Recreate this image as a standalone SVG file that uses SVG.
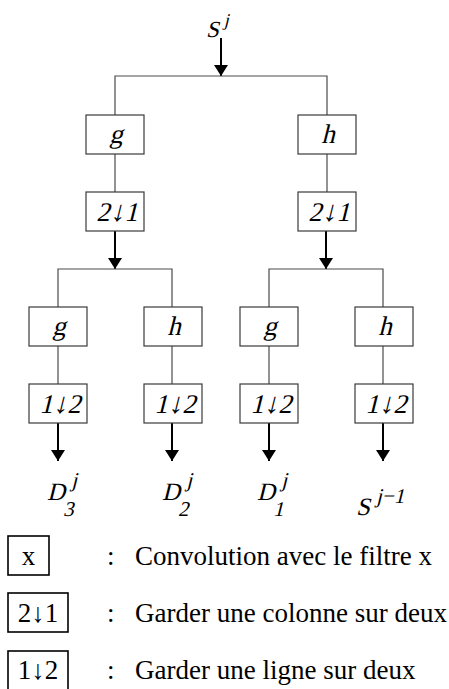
<svg xmlns="http://www.w3.org/2000/svg" width="449" height="689" viewBox="0 0 449 689">
  <style>
    .box { fill: #fff; stroke: #3a3a3a; stroke-width: 1.2; }
    .lbox { fill: #fff; stroke: #000; stroke-width: 1.6; }
    .wire { fill: none; stroke: #4a4a4a; stroke-width: 1.2; }
    .arrow { fill: none; stroke: #000; stroke-width: 2; marker-end: url(#head); }
    .serif { font-family: "Liberation Serif", "DejaVu Serif", "DejaVu Sans", serif; fill: #000; }
    .op { font-size: 27px; text-anchor: middle; }
    .dn { font-size: 29px; }
    .math { font-size: 25px; }
    .scr { font-size: 21px; }
    .up { font-size: 27px; }
  </style>
  <defs>
    <marker id="head" viewBox="0 0 11 14" refX="11" refY="7" markerWidth="11" markerHeight="14" markerUnits="userSpaceOnUse" orient="auto">
      <path d="M0,0 L11,7 L0,14 z" fill="#000"/>
    </marker>
  </defs>

  <!-- connectors -->
  <g id="connectors">
    <line class="arrow" x1="221" y1="38" x2="221" y2="76"/>
    <path class="wire" d="M115,115 V76 H327 V115"/>
    <line class="wire" x1="115" y1="154" x2="115" y2="192"/>
    <line class="wire" x1="327" y1="154" x2="327" y2="192"/>
    <line class="arrow" x1="115" y1="231" x2="115" y2="269"/>
    <line class="arrow" x1="326" y1="231" x2="326" y2="269"/>
    <path class="wire" d="M58,307 V269 H172 V307"/>
    <path class="wire" d="M269,307 V269 H383 V307"/>
    <line class="wire" x1="58" y1="346" x2="58" y2="384"/>
    <line class="wire" x1="172" y1="346" x2="172" y2="384"/>
    <line class="wire" x1="269" y1="346" x2="269" y2="384"/>
    <line class="wire" x1="383" y1="346" x2="383" y2="384"/>
    <line class="arrow" x1="58" y1="423" x2="58" y2="461"/>
    <line class="arrow" x1="172" y1="423" x2="172" y2="461"/>
    <line class="arrow" x1="269" y1="423" x2="269" y2="461"/>
    <line class="arrow" x1="383" y1="423" x2="383" y2="461"/>
  </g>

  <!-- input signal (italic drawn as slanted roman) -->
  <g id="input">
    <text class="serif" style="font-size:23px" transform="translate(206,37) skewX(-14)">S<tspan x="15" y="-11" style="font-size:18px">j</tspan></text>
  </g>

  <!-- first stage: column filtering -->
  <g id="g-top"><rect class="box" x="86" y="115" width="58" height="39"/><text class="serif op" transform="translate(116,143) skewX(-14)">g</text></g>
  <g id="h-top"><rect class="box" x="298" y="115" width="58" height="39"/><text class="serif op" transform="translate(328,143) skewX(-14)">h</text></g>
  <g id="dec-col-left"><rect class="box" x="86" y="192" width="58" height="39"/><text class="serif op" transform="translate(117,221) skewX(-14)">2<tspan class="dn">↓</tspan>1</text></g>
  <g id="dec-col-right"><rect class="box" x="298" y="192" width="58" height="39"/><text class="serif op" transform="translate(329,221) skewX(-14)">2<tspan class="dn">↓</tspan>1</text></g>

  <!-- second stage: row filtering -->
  <g id="g-1"><rect class="box" x="29" y="307" width="58" height="39"/><text class="serif op" transform="translate(59,335) skewX(-14)">g</text></g>
  <g id="h-1"><rect class="box" x="144" y="307" width="58" height="39"/><text class="serif op" transform="translate(174,335) skewX(-14)">h</text></g>
  <g id="g-2"><rect class="box" x="240" y="307" width="58" height="39"/><text class="serif op" transform="translate(270,335) skewX(-14)">g</text></g>
  <g id="h-2"><rect class="box" x="355" y="307" width="58" height="39"/><text class="serif op" transform="translate(385,335) skewX(-14)">h</text></g>
  <g id="dec-row-1"><rect class="box" x="29" y="384" width="58" height="39"/><text class="serif op" transform="translate(60,413) skewX(-14)">1<tspan class="dn">↓</tspan>2</text></g>
  <g id="dec-row-2"><rect class="box" x="144" y="384" width="58" height="39"/><text class="serif op" transform="translate(175,413) skewX(-14)">1<tspan class="dn">↓</tspan>2</text></g>
  <g id="dec-row-3"><rect class="box" x="240" y="384" width="58" height="39"/><text class="serif op" transform="translate(271,413) skewX(-14)">1<tspan class="dn">↓</tspan>2</text></g>
  <g id="dec-row-4"><rect class="box" x="355" y="384" width="58" height="39"/><text class="serif op" transform="translate(386,413) skewX(-14)">1<tspan class="dn">↓</tspan>2</text></g>

  <!-- outputs -->
  <g id="out-d3"><text class="serif math" transform="translate(47,500) skewX(-14)">D<tspan class="scr" x="21" y="-13">j</tspan><tspan class="scr" x="20" y="16">3</tspan></text></g>
  <g id="out-d2"><text class="serif math" transform="translate(162,500) skewX(-14)">D<tspan class="scr" x="21" y="-13">j</tspan><tspan class="scr" x="20" y="16">2</tspan></text></g>
  <g id="out-d1"><text class="serif math" transform="translate(257,500) skewX(-14)">D<tspan class="scr" x="21" y="-13">j</tspan><tspan class="scr" x="20" y="16">1</tspan></text></g>
  <g id="out-s"><text class="serif math" transform="translate(356,515) skewX(-14)">S<tspan class="scr" x="17" y="-12">j−1</tspan></text></g>

  <!-- legend -->
  <g id="legend-filter">
    <rect class="lbox" x="8" y="536" width="41" height="39"/>
    <text class="serif up" x="28.5" y="565" text-anchor="middle">x</text>
    <text class="serif up" x="107" y="565">:</text>
    <text class="serif up" x="135" y="565">Convolution avec le filtre x</text>
  </g>
  <g id="legend-col">
    <rect class="lbox" x="8" y="593" width="60" height="39"/>
    <text class="serif up" x="38" y="622" text-anchor="middle">2↓1</text>
    <text class="serif up" x="107" y="622">:</text>
    <text class="serif up" x="135" y="622">Garder une colonne sur deux</text>
  </g>
  <g id="legend-row">
    <rect class="lbox" x="8" y="651" width="60" height="42"/>
    <text class="serif up" x="38" y="679" text-anchor="middle">1↓2</text>
    <text class="serif up" x="107" y="679">:</text>
    <text class="serif up" x="135" y="679">Garder une ligne sur deux</text>
  </g>
</svg>
